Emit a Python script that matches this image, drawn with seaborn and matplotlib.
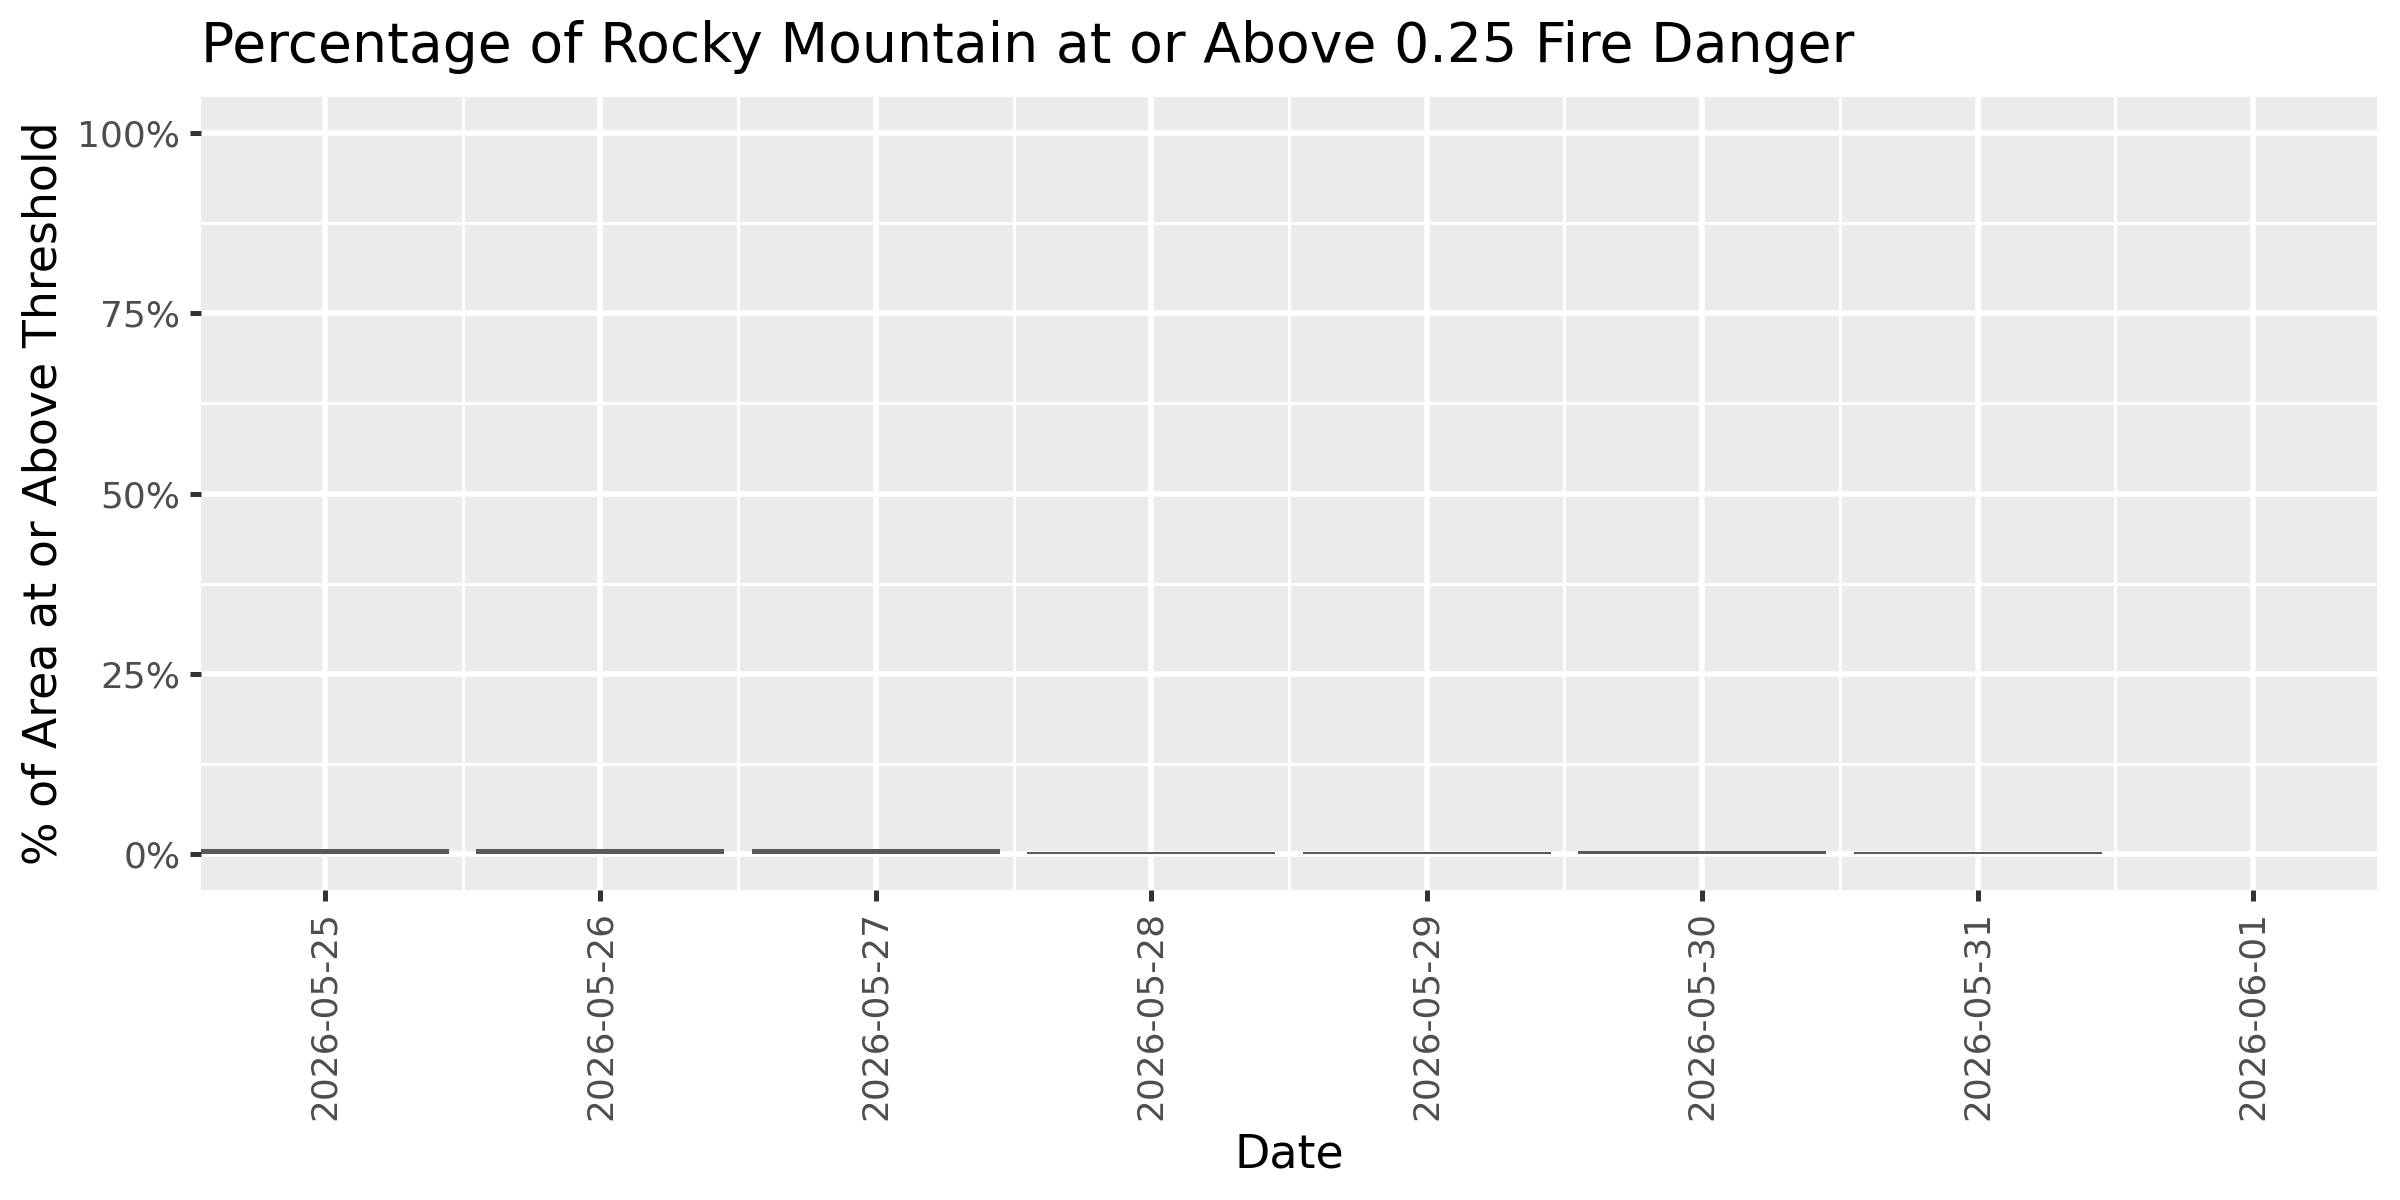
import matplotlib
matplotlib.use("Agg")
import matplotlib.pyplot as plt
import seaborn as sns
import pandas as pd
from matplotlib.ticker import FixedLocator, FuncFormatter

dates = ["2026-05-25", "2026-05-26", "2026-05-27", "2026-05-28",
         "2026-05-29", "2026-05-30", "2026-05-31", "2026-06-01"]
pct_values = [0.7, 0.7, 0.7, 0.25, 0.25, 0.4, 0.25, 0.0]
y_ticks = [0, 25, 50, 75, 100]
y_minor = [12.5, 37.5, 62.5, 87.5]

title = "Percentage of Rocky Mountain at or Above 0.25 Fire Danger"
x_label = "Date"
y_label = "% of Area at or Above Threshold"

sns.set_theme(style="white")
plt.rcParams['font.family'] = ['DejaVu Sans']

df = pd.DataFrame({"date": dates, "pct": pct_values})

fig = plt.figure(figsize=(16, 8), dpi=150)
ax = fig.add_axes([201/2400, 1 - 890/1200, (2377-201)/2400, (890-97)/1200])
ax.set_facecolor("#EBEBEB")

sns.barplot(data=df, x="date", y="pct", order=dates, color="#595959",
            saturation=1, width=0.9, edgecolor="none", linewidth=0, ax=ax, zorder=3)

ax.set_xlim(-0.45, len(dates) - 1 + 0.45)
ax.set_ylim(-5, 105)

ax.yaxis.set_major_locator(FixedLocator(y_ticks))
ax.yaxis.set_minor_locator(FixedLocator(y_minor))
ax.yaxis.set_major_formatter(FuncFormatter(lambda v, p: f"{v:.0f}%"))
ax.xaxis.set_minor_locator(FixedLocator([i + 0.5 for i in range(len(dates) - 1)]))

ax.set_axisbelow(True)
ax.grid(which="major", color="white", linewidth=2.7)
ax.grid(which="minor", color="white", linewidth=1.35)

for s in ax.spines.values():
    s.set_visible(False)

ax.tick_params(axis="both", which="major", length=5.5, width=2.4, color="#333333",
               labelsize=17.3, labelcolor="#4D4D4D", pad=4.4,
               bottom=True, left=True)
ax.tick_params(axis="both", which="minor", length=0)
plt.setp(ax.get_xticklabels(), rotation=90, va="top", ha="center")

ax.set_xlabel(x_label, fontsize=22, color="black", labelpad=6)
ax.set_ylabel(y_label, fontsize=22, color="black", labelpad=5)
ax.set_title(title, loc="left", fontsize=26.5, color="black", pad=17)

fig.savefig("out.png", dpi=150)
